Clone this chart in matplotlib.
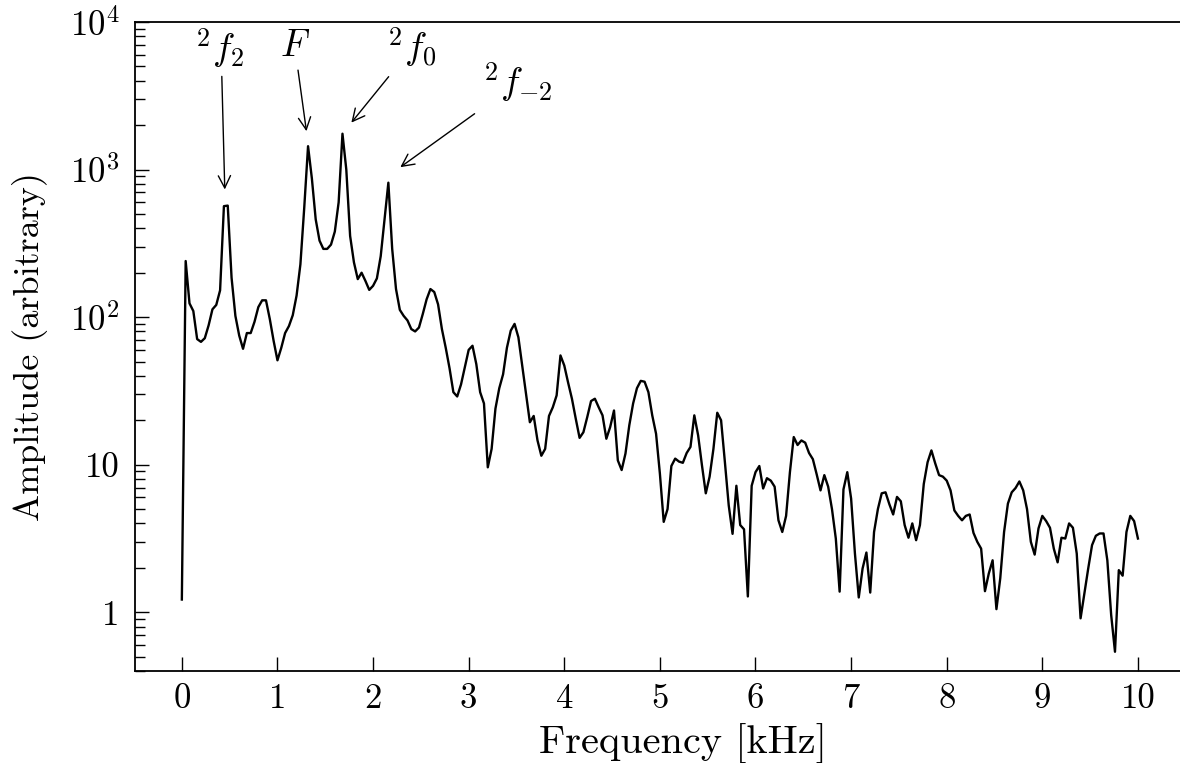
import numpy as np
import matplotlib
matplotlib.use("Agg")
import matplotlib.pyplot as plt
from matplotlib.ticker import FixedLocator, FixedFormatter, LogLocator, NullFormatter

plt.rcParams['font.family'] = 'serif'
plt.rcParams['font.serif'] = ['cmr10']
plt.rcParams['mathtext.fontset'] = 'cm'
plt.rcParams['axes.formatter.use_mathtext'] = True

# spectrum, one value every 0.04 kHz from 0 to 10 kHz
df = 0.04
amplitude = [
    1.22, 240, 124, 110, 71, 68, 72, 88, 113, 121,
    152, 565, 570, 185, 102, 75, 61, 78, 78, 93,
    117, 130, 130, 97, 69, 51, 62, 78, 87, 103,
    140, 228, 550, 1440, 870, 460, 330, 290, 290, 310,
    380, 600, 1750, 1000, 355, 235, 181, 200, 176, 153,
    163, 183, 259, 460, 815, 290, 155, 112, 102, 95,
    83, 80, 85, 105, 132, 155, 148, 122, 83, 62,
    45, 31, 29, 35, 46, 60, 64, 48, 31, 26,
    9.6, 12.8, 24, 33, 41, 62, 81, 90, 73, 47,
    30, 19.4, 21.4, 14.6, 11.5, 12.8, 21.4, 24.5, 29.5, 55,
    47, 36, 28, 20.5, 15.2, 16.6, 21, 27, 28, 24.5,
    21.6, 15, 18, 23.3, 10.7, 9.2, 11.9, 18.5, 26, 33,
    37, 36.5, 31, 21.6, 16.2, 8.7, 4.1, 5.0, 9.8, 11,
    10.5, 10.3, 12, 13.2, 21.6, 15.8, 9.9, 6.4, 8.3, 12.8,
    22.5, 20, 10.4, 5.3, 3.4, 7.2, 3.9, 3.65, 1.28, 7.2,
    8.9, 9.8, 6.9, 8.1, 7.8, 7.1, 4.2, 3.5, 4.5, 8.9,
    15.4, 13.6, 14.6, 14.1, 12, 10.9, 8.6, 6.7, 8.5, 7.1,
    5.0, 3.16, 1.38, 6.8, 8.9, 5.9, 2.5, 1.26, 1.98, 2.54,
    1.36, 3.5, 5.0, 6.4, 6.5, 5.4, 4.6, 6.05, 5.65, 3.9,
    3.2, 4.0, 3.08, 3.9, 7.4, 10.4, 12.5, 10.2, 8.5, 8.3,
    7.8, 6.7, 4.9, 4.5, 4.2, 4.5, 4.6, 3.45, 3.0, 2.7,
    1.39, 1.83, 2.25, 1.05, 1.70, 3.5, 5.45, 6.5, 6.95, 7.7,
    6.7, 5.0, 3.0, 2.46, 3.7, 4.5, 4.15, 3.74, 2.7, 2.18,
    3.2, 3.16, 4.0, 3.74, 2.5, 0.91, 1.34, 1.98, 2.85, 3.3,
    3.42, 3.42, 2.25, 0.96, 0.54, 1.93, 1.77, 3.5, 4.5, 4.15,
    3.16,
]
freq = np.arange(len(amplitude)) * df

xticks = list(range(11))
yticks = [1, 10, 100, 1000, 10000]
ytick_labels = ['1', '10', r'$10^2$', r'$10^3$', r'$10^4$']

# peak labels: text, text position, arrow tail, arrow tip
peak_labels = [r'${}^2f_2$', r'$F$', r'${}^2f_0$', r'${}^2f_{-2}$']
label_pos = [(0.40, 6700), (1.18, 6800), (2.40, 6800), (3.51, 3900)]
arrow_tail = [(0.418, 4280), (1.215, 4720), (2.163, 4260), (3.062, 2390)]
arrow_tip = [(0.449, 733), (1.303, 1820), (1.773, 2080), (2.285, 1038)]

fs = 25

fig = plt.figure(figsize=(11.8, 7.63), dpi=100)
ax = fig.add_axes([135 / 1180, 1 - 671 / 763, 1 - 135 / 1180, (671 - 22) / 763])

ax.plot(freq, amplitude, color='black', lw=1.7)

ax.set_yscale('log')
ax.set_xlim(-0.49, 10.44)
ax.set_ylim(0.40, 1e4)

ax.xaxis.set_major_locator(FixedLocator(xticks))
ax.set_xticklabels([str(t) for t in xticks])
ax.yaxis.set_major_locator(FixedLocator(yticks))
ax.yaxis.set_major_formatter(FixedFormatter(ytick_labels))
ax.yaxis.set_minor_locator(LogLocator(base=10, subs=np.arange(2, 10)))
ax.yaxis.set_minor_formatter(NullFormatter())

ax.tick_params(axis='both', which='both', direction='in', labelsize=fs,
               top=False, right=False, width=1.0)
ax.tick_params(axis='both', which='major', length=10)
ax.tick_params(axis='y', which='minor', length=7)
ax.tick_params(axis='x', which='major', pad=9)
ax.tick_params(axis='y', which='major', pad=11)

ax.spines['right'].set_visible(False)
for s in ['left', 'bottom', 'top']:
    ax.spines[s].set_linewidth(1.3)

ax.set_xlabel('Frequency [kHz]', fontsize=29)
ax.set_ylabel('Amplitude (arbitrary)', fontsize=26)
# the original axis box runs past the right edge of the picture
ax.xaxis.set_label_coords((683 - 135) / (1180 - 135), -0.081)
ax.yaxis.set_label_coords(-0.083, 0.5)

for lab, pos, tail, tip in zip(peak_labels, label_pos, arrow_tail, arrow_tip):
    ax.text(pos[0], pos[1], lab, fontsize=fs + 2, ha='center', va='center')
    ax.annotate('', xy=tip, xytext=tail,
                arrowprops=dict(arrowstyle='->', color='black', lw=1.0,
                                shrinkA=0, shrinkB=0, mutation_scale=22))

fig.savefig('out.png', dpi=100)
